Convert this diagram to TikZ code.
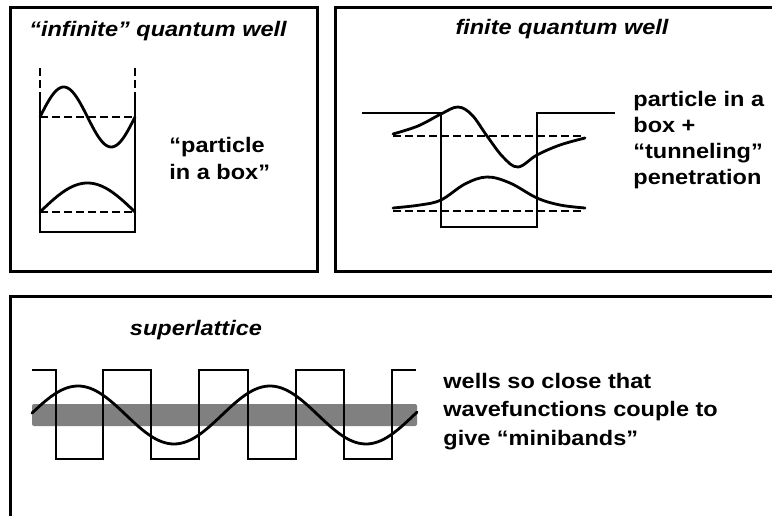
\documentclass[tikz,border=0pt]{standalone}
\usepackage{fontspec}
\setmainfont{Liberation Sans}[FakeStretch=1.12]
\definecolor{bandgray}{HTML}{808080}
\begin{document}
\begin{tikzpicture}[x=1pt,y=-1pt,line width=2.8pt,
  panel/.style={draw,line width=3pt},
  wf/.style={line width=2.8pt,line join=round,line cap=round},
  level/.style={line width=2.8pt,dash pattern=on 8pt off 4pt},
  wall/.style={line width=2.8pt},
  paneltitle/.style={font=\fontsize{21}{26}\selectfont\bfseries\itshape,inner sep=0pt},
  caption/.style={font=\fontsize{21}{26}\selectfont\bfseries,align=left,inner sep=0pt}]
\useasboundingbox (0,0) rectangle (772,516);
\fill[white] (0,0) rectangle (772,516);
% panels
\draw[panel] (10,8) rectangle (317,271);
\draw[panel] (335,8) rectangle (790,271);
\draw[panel] (10,296) rectangle (790,530);
% titles
\node[paneltitle,anchor=base] (t1) at (158,37) {“infinite” quantum well};
\node[paneltitle,anchor=base] (t2) at (562,35) {finite quantum well};
\node[paneltitle,anchor=base] (t3) at (196,335) {superlattice};
% captions (base anchor = baseline of last line)
\node[caption,anchor=base west,font=\fontsize{21}{28}\selectfont\bfseries] (c1) at (168,180) {“particle\\in a box”};
\node[caption,anchor=base west] (c2) at (632,185) {particle in a\\box +\\“tunneling”\\penetration};
\node[caption,anchor=base west,font=\fontsize{21}{28.5}\selectfont\bfseries] (c3) at (442,445) {wells so close that\\wavefunctions couple to\\give “minibands”};
% infinite well
\draw[level] (40,68) -- (40,95);
\draw[level] (135,68) -- (135,95);
\draw[wall] (40,95) -- (40,232) -- (135,232) -- (135,95);
\draw[level] (40,117) -- (135,117);
\draw[level] (40,212) -- (135,212);
\draw[wf] plot[domain=40:135,samples=80] (\x,{117-30*sin(3.78947*(\x-40))});
\draw[wf] plot[domain=40:135,samples=80] (\x,{212-29*sin(1.89474*(\x-40))});
% finite well
\draw[wall] (362,113) -- (441,113) -- (441,227) -- (537,227) -- (537,113) -- (615,113);
\draw[level] (393,136) -- (583,136);
\draw[level] (393,211) -- (583,211);
\draw[wf] plot[smooth,tension=0.6] coordinates {(393,134) (418,126) (441,114) (458,107) (472,115) (487,136) (503,157) (518,167) (537,155) (560,145) (585,138)};
\draw[wf] plot[smooth,tension=0.6] coordinates {(393,208) (420,205) (441,200) (465,184) (487,177) (510,183) (537,198) (560,205) (585,208)};
% superlattice
\fill[bandgray,rounded corners=2pt] (32,404) rectangle (417,426);
\draw[wall] (32,370) -- (56,370) -- (56,459) -- (103,459) -- (103,370) -- (151,370) -- (151,459) -- (199,459) -- (199,370) -- (248,370) -- (248,459) -- (296,459) -- (296,370) -- (344,370) -- (344,459) -- (392,459) -- (392,370) -- (416,370);
\draw[wf] plot[domain=32:417,samples=120] (\x,{415-29*cos(1.875*(\x-78))});
\end{tikzpicture}
\end{document}
